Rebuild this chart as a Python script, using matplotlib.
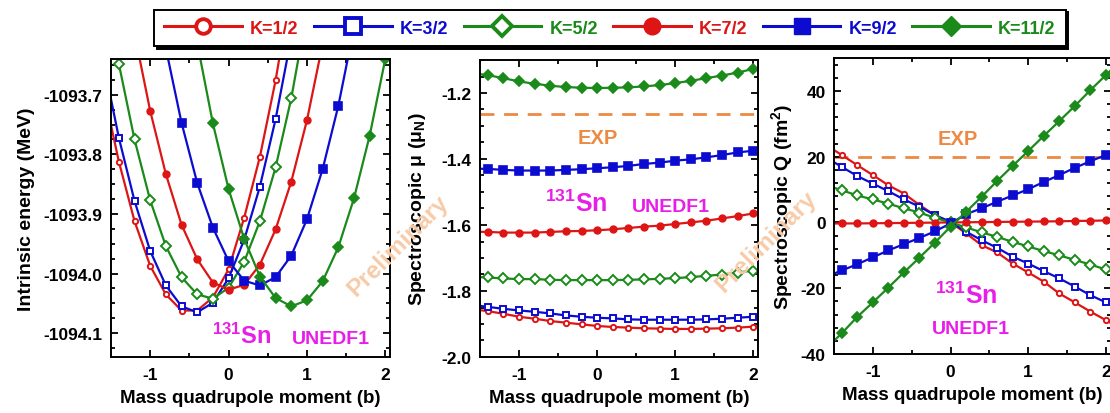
#!/usr/bin/env python3
""" Intrinsic energy, magnetic moment and spectroscopic quadrupole moment
of 131Sn versus the mass quadrupole moment, one curve per K.
"""
import numpy as np
import matplotlib
matplotlib.use('Agg')
import matplotlib.pyplot as plt
from matplotlib.lines import Line2D
from matplotlib.ticker import MultipleLocator, FormatStrFormatter

nan = np.nan

# mass quadrupole moment grid (b)
QUAD = [-1.6, -1.4, -1.2, -1.0, -0.8, -0.6, -0.4, -0.2, 0.0, 0.2,
        0.4, 0.6, 0.8, 1.0, 1.2, 1.4, 1.6, 1.8, 2.0, 2.2]

K_LABELS = ['K=1/2', 'K=3/2', 'K=5/2', 'K=7/2', 'K=9/2', 'K=11/2']

# intrinsic energy (MeV)
E_K1 = [-1093.690, -1093.812, -1093.912, -1093.987, -1094.035, -1094.062, -1094.062,
        -1094.040, -1093.993, -1093.906, -1093.804, -1093.676, -1093.520,
        nan, nan, nan, nan, nan, nan, nan]
E_K3 = [-1093.643, -1093.772, -1093.878, -1093.962, -1094.020, -1094.055, -1094.065,
        -1094.049, -1094.008, -1093.943, -1093.854, -1093.741, -1093.604,
        nan, nan, nan, nan, nan, nan, nan]
E_K5 = [-1093.497, -1093.648, -1093.775, -1093.877, -1093.954, -1094.006, -1094.035,
        -1094.042, -1094.024, -1093.980, -1093.912, -1093.822, -1093.706, -1093.560,
        nan, nan, nan, nan, nan, nan]
E_K7 = [nan, nan, -1093.597, -1093.727, -1093.833, -1093.918, -1093.976, -1094.015,
        -1094.027, -1094.019, -1093.985, -1093.926, -1093.846, -1093.743, -1093.615,
        nan, nan, nan, nan, nan]
E_K9 = [nan, nan, nan, nan, -1093.622, -1093.747, -1093.848, -1093.923, -1093.979,
        -1094.012, -1094.020, -1094.006, -1093.970, -1093.909, -1093.825, -1093.719,
        -1093.588, nan, nan, nan]
E_K11 = [nan, nan, nan, nan, nan, nan, -1093.613, -1093.748, -1093.858, -1093.942,
         -1094.005, -1094.041, -1094.055, -1094.045, -1094.013, -1093.956, -1093.874,
         -1093.769, -1093.640, -1093.490]

# spectroscopic magnetic moment (mu_N)
MU_K1 = [-1.855, -1.861, -1.869, -1.878, -1.884, -1.891, -1.896, -1.901, -1.906, -1.909,
         -1.911, -1.913, -1.914, -1.915, -1.915, -1.914, -1.913, -1.911, -1.908, -1.904]
MU_K3 = [-1.842, -1.848, -1.854, -1.859, -1.863, -1.868, -1.874, -1.878, -1.881, -1.883,
         -1.886, -1.887, -1.887, -1.887, -1.887, -1.886, -1.884, -1.881, -1.878, -1.874]
MU_K5 = [-1.757, -1.759, -1.762, -1.764, -1.764, -1.766, -1.767, -1.767, -1.767, -1.767,
         -1.766, -1.765, -1.763, -1.761, -1.758, -1.754, -1.750, -1.744, -1.738, -1.731]
MU_K7 = [-1.620, -1.621, -1.623, -1.623, -1.623, -1.621, -1.619, -1.618, -1.616, -1.613,
         -1.609, -1.605, -1.602, -1.597, -1.592, -1.587, -1.580, -1.573, -1.565, -1.557]
MU_K9 = [-1.429, -1.430, -1.433, -1.435, -1.435, -1.435, -1.433, -1.431, -1.428, -1.425,
         -1.421, -1.415, -1.411, -1.405, -1.401, -1.395, -1.388, -1.380, -1.375, -1.368]
MU_K11 = [-1.140, -1.146, -1.155, -1.165, -1.172, -1.178, -1.182, -1.184, -1.185, -1.184,
          -1.183, -1.180, -1.176, -1.170, -1.163, -1.155, -1.147, -1.138, -1.127, -1.116]
MU_EXP = -1.265

# spectroscopic quadrupole moment (fm^2)
Q_K1 = [23.5, 20.5, 17.4, 14.4, 11.3, 8.8, 5.3, 2.2, 0.0, -3.3,
        -6.9, -9.1, -12.5, -15.2, -18.0, -21.6, -24.3, -27.1, -29.7, -32.4]
Q_K3 = [19.7, 16.9, 14.1, 11.8, 9.5, 7.0, 4.8, 2.2, 0.2, -2.8,
        -5.4, -7.7, -10.4, -12.5, -14.8, -17.0, -19.5, -22.1, -24.3, -26.6]
Q_K5 = [11.3, 9.8, 8.2, 7.0, 5.7, 4.3, 3.0, 1.4, 0.0, -1.5,
        -3.0, -4.4, -5.9, -7.3, -8.7, -10.0, -11.4, -12.8, -14.3, -15.7]
Q_K7 = [-0.35, -0.3, -0.3, -0.25, -0.2, -0.15, -0.1, -0.05, 0.0, 0.05,
        0.1, 0.15, 0.2, 0.25, 0.3, 0.35, 0.45, 0.5, 0.6, 0.65]
Q_K9 = [-16.5, -14.6, -12.7, -10.6, -8.5, -6.6, -4.7, -2.7, -0.3, 2.5,
        4.3, 6.3, 8.2, 10.1, 12.3, 14.4, 16.6, 18.6, 20.5, 22.4]
Q_K11 = [-38.3, -33.7, -28.7, -24.3, -19.8, -15.2, -10.7, -6.1, -1.3, 3.2,
         7.8, 12.6, 17.2, 21.7, 26.3, 30.8, 35.4, 40.2, 44.8, 49.4]
Q_EXP = 19.9

RED = '#dd1515'
BLUE = '#0c0cd0'
GREEN = '#1a8a1a'
MAGENTA = '#e81ee8'
ORANGE = '#ec8a44'
WATERMARK = '#f7cba8'

# marker, filled, color, plot size, legend size
STYLES = [('o', False, RED, 3.8, 10.5),
          ('s', False, BLUE, 4.8, 11.0),
          ('D', False, GREEN, 5.6, 10.5),
          ('o', True, RED, 4.8, 12.0),
          ('s', True, BLUE, 5.2, 11.0),
          ('D', True, GREEN, 5.6, 10.5)]

plt.rcParams['font.family'] = ['Liberation Sans', 'DejaVu Sans']
plt.rcParams['font.weight'] = 'bold'
plt.rcParams['axes.labelweight'] = 'bold'
plt.rcParams['mathtext.fontset'] = 'custom'
plt.rcParams['mathtext.rm'] = 'Liberation Sans:bold'
plt.rcParams['mathtext.bf'] = 'Liberation Sans:bold'
plt.rcParams['mathtext.it'] = 'Liberation Sans:italic:bold'
plt.rcParams['mathtext.default'] = 'bf'
plt.rcParams['axes.unicode_minus'] = False

W, H = 1110, 414


def px_axes(fig, x0, x1, y0, y1):
    """Add axes from pixel box (y from top)."""
    return fig.add_axes([x0 / W, (H - y1) / H, (x1 - x0) / W, (y1 - y0) / H])


def plot_series(ax, series):
    for vals, (mk, filled, col, ms, _) in zip(series, STYLES):
        ax.plot(QUAD, vals, color=col, lw=1.6, marker=mk, ms=ms,
                mfc=col if filled else 'white', mec=col,
                mew=1.2 if filled else 1.4, clip_on=True)


def style_axes(ax, ymajor, yminor, fmt):
    ax.set_xlim(-1.5, 2.06)
    ax.xaxis.set_major_locator(MultipleLocator(1))
    ax.xaxis.set_minor_locator(MultipleLocator(0.5))
    ax.yaxis.set_major_locator(MultipleLocator(ymajor))
    ax.yaxis.set_minor_locator(MultipleLocator(yminor))
    ax.yaxis.set_major_formatter(FormatStrFormatter(fmt))
    ax.tick_params(which='both', direction='in', top=True, right=True, width=1.3)
    ax.tick_params(which='major', length=5, labelsize=12.5)
    ax.tick_params(which='minor', length=3)
    ax.tick_params(axis='y', pad=6)
    ax.tick_params(axis='x', pad=7)
    for sp in ax.spines.values():
        sp.set_linewidth(1.4)
    ax.set_xlabel('Mass quadrupole moment (b)', fontsize=13.5, labelpad=5)


def label_nucleus(ax, x, y, ux, uy, fs=17):
    ax.text(x, y, r'$^{131}$Sn', color=MAGENTA, fontsize=fs, ha='left', va='baseline')
    ax.text(ux, uy, 'UNEDF1', color=MAGENTA, fontsize=14, ha='left', va='baseline')


def main() -> None:
    fig = plt.figure(figsize=(W / 100, H / 100), dpi=100)

    # intrinsic energy
    ax1 = px_axes(fig, 111, 390, 60, 358)
    plot_series(ax1, [E_K1, E_K3, E_K5, E_K7, E_K9, E_K11])
    style_axes(ax1, 0.1, 0.025, '%.1f')
    ax1.set_ylim(-1094.14, -1093.64)
    ax1.set_ylabel('Intrinsic energy (MeV)', fontsize=14, labelpad=6)
    label_nucleus(ax1, -0.205, -1094.116, 0.81, -1094.116)

    # magnetic moment
    ax2 = px_axes(fig, 480, 758, 61, 358)
    ax2.axhline(MU_EXP, color=ORANGE, lw=2, dashes=(5, 3.5), zorder=1)
    plot_series(ax2, [MU_K1, MU_K3, MU_K5, MU_K7, MU_K9, MU_K11])
    style_axes(ax2, 0.2, 0.05, '%.1f')
    ax2.set_ylim(-2.0, -1.1)
    ax2.set_ylabel(r'Spectroscopic μ (μ$_{N}$)', fontsize=14, labelpad=10)
    ax2.text(-0.25, -1.350, 'EXP', color=ORANGE, fontsize=14.5, ha='left', va='baseline')
    label_nucleus(ax2, -0.67, -1.557, 0.44, -1.557, fs=18)

    # quadrupole moment
    ax3 = px_axes(fig, 834, 1110.5, 59, 355)
    ax3.axhline(Q_EXP, color=ORANGE, lw=2, dashes=(5, 3.5), zorder=1)
    plot_series(ax3, [Q_K1, Q_K3, Q_K5, Q_K7, Q_K9, Q_K11])
    style_axes(ax3, 20, 4, '%d')
    ax3.set_ylim(-40, 50)
    ax3.set_ylabel(r'Spectroscopic Q (fm$^{2}$)', fontsize=14, labelpad=4)
    ax3.text(-0.16, 23.7, 'EXP', color=ORANGE, fontsize=14.5, ha='left', va='baseline')
    ax3.text(-0.20, -24.6, r'$^{131}$Sn', color=MAGENTA, fontsize=18, ha='left', va='baseline')
    ax3.text(-0.24, -33.5, 'UNEDF1', color=MAGENTA, fontsize=14, ha='left', va='baseline')

    # watermarks
    for cx, cy in [(398, 246), (766, 242)]:
        fig.text(cx / W, 1 - cy / H, 'Preliminary', color=WATERMARK, fontsize=17.5,
                 rotation=45, ha='center', va='center', zorder=0)

    handles = []
    for mk, filled, col, _, lms in STYLES:
        handles.append(Line2D([], [], color=col, lw=2.2, marker=mk, ms=lms,
                              mfc=col if filled else 'white', mec=col,
                              mew=2.8 if not filled else 1.0))
    leg = fig.legend(handles, K_LABELS, loc='center', bbox_to_anchor=(610 / W, 1 - 29 / H),
                     ncol=6, numpoints=1, fontsize=13, frameon=True, fancybox=False,
                     edgecolor='black', handlelength=4.3, handletextpad=0.45,
                     columnspacing=0.85, borderpad=0.55, borderaxespad=0,
                     shadow={'color': 'black', 'alpha': 1.0}, labelcolor='linecolor')
    leg.get_frame().set_linewidth(1.4)

    fig.savefig('out.png', dpi=100)


if __name__ == "__main__":
    main()
